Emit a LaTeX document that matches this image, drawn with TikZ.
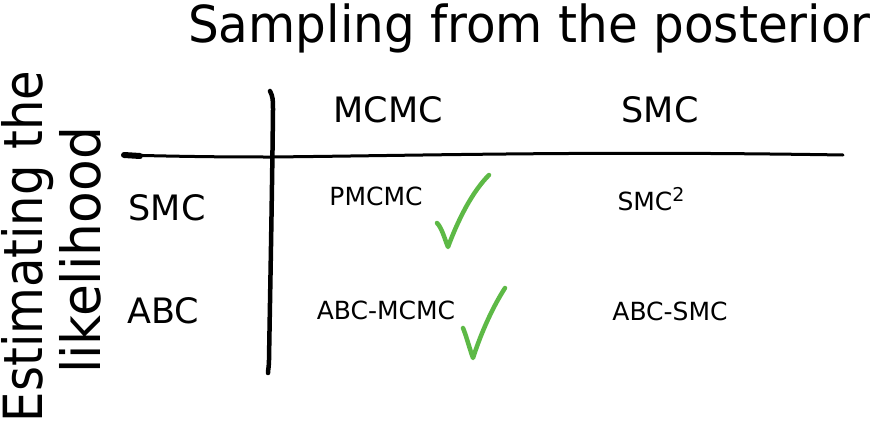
\documentclass[tikz,border=0pt]{standalone}
\usepackage{fontspec}
\setmainfont{DejaVu Sans}
\usepackage{xcolor}
\usepackage{graphicx}
\definecolor{TickGreen}{HTML}{5DB946}
\usetikzlibrary{positioning, calc}
\tikzset{
  % Text styles
  titletext/.style={font=\fontsize{51}{60}\selectfont, inner sep=0pt, anchor=base},
  sidetext/.style={font=\fontsize{54}{60}\selectfont, inner sep=0pt, anchor=base, rotate=90},
  headtext/.style={font=\fontsize{35}{40}\selectfont, inner sep=0pt},
  celltext/.style={font=\fontsize{25}{28}\selectfont, inner sep=0pt},
  % Line styles
  gridline/.style={line width=3pt, line cap=round, black},
  tickmark/.style={line width=4.5pt, line cap=round, line join=round, TickGreen}
}

\begin{document}
\begin{tikzpicture}[x=1pt, y=-1pt]
  \useasboundingbox (0,0) rectangle (876,423);

  % Axis titles
  \node[titletext] (post) at (529.5,42) {\scalebox{0.95}[1]{Sampling from the posterior}};
  \node[sidetext] (likone) at (42,246.5) {\scalebox{0.89}[1]{Estimating the}};
  \node[sidetext] (liktwo) at (100,250.5) {\scalebox{0.96}[1]{likelihood}};

  % Column and row headers
  \node[headtext] (colmcmc) at (388,110) {MCMC};
  \node[headtext] (colsmc) at (660,110) {SMC};
  \node[headtext] (rowsmc) at (167,208) {SMC};
  \node[headtext] (rowabc) at (163,311) {ABC};

  % Cells
  \node[celltext] (pmcmc) at (376,196) {PMCMC};
  \node[celltext] (smcsq) at (651,199) {SMC\raisebox{9pt}{\fontsize{19}{20}\selectfont 2}};
  \node[celltext] (abcmcmc) at (386,310) {ABC-MCMC};
  \node[celltext] (abcsmc) at (670,311) {ABC-SMC};

  % Hand-drawn grid
  \draw[gridline] (123,155) .. controls (200,157) and (240,157) .. (272,157)
    .. controls (450,155) and (600,151) .. (843,155);
  \draw[gridline, line width=6pt] (124,155) -- (140,156);
  \draw[gridline, line width=4.5pt] (270,91) .. controls (273,97) and (273,100) .. (273,110)
    .. controls (272,200) and (270,300) .. (269,360) .. controls (269,366) and (268,370) .. (268,373);

  % Ticks
  \draw[tickmark] (437,223) .. controls (442,228) and (445,240) .. (448,247)
    .. controls (458,220) and (472,192) .. (489,175);
  \draw[tickmark] (463,328) .. controls (466,335) and (470,350) .. (473,358)
    .. controls (482,330) and (494,305) .. (505,288);
\end{tikzpicture}
\end{document}
